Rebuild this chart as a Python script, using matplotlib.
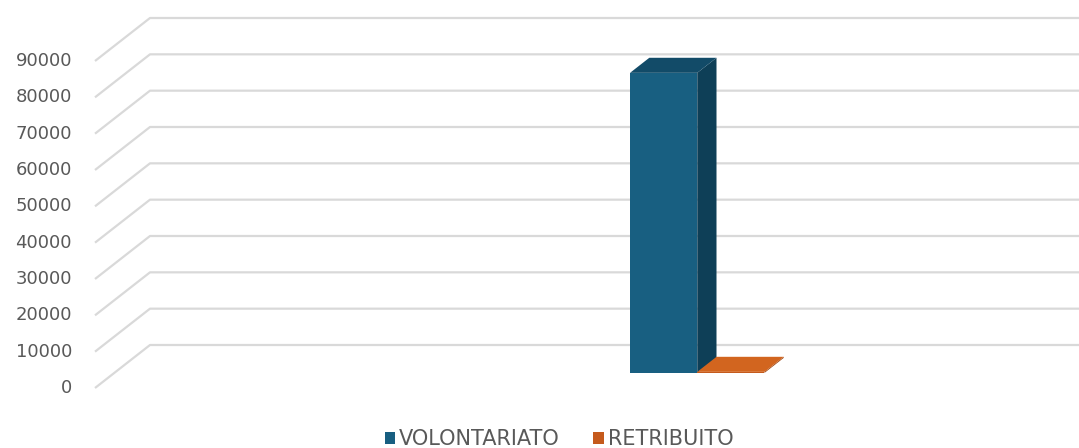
import numpy as np
import matplotlib.pyplot as plt
from matplotlib.patches import Polygon, Patch

# dati
serie = ['VOLONTARIATO', 'RETRIBUITO']
valori = [82600, 300]
colori_fronte = ['#185f81', '#c55a1c']
colori_lato = ['#0e3f57', '#9e4512']
colori_sopra = ['#124b68', '#d2651f']
ticks = np.arange(0, 90001, 10000)

# prospettiva finta (stile grafico 3D di Excel)
px_x = 280.0            # pixel per unita' x
px_y = 327.0 / 90000    # pixel per unita' y
dx = 55 / px_x          # profondita' parete di fondo
dy = 43 / px_y
f0, f1 = 0.35, 0.70     # profondita' delle barre (frazione)
w = 0.24                # larghezza barra
floor_left = (95 - 678) / px_x

fig = plt.figure(figsize=(10.79, 4.48), dpi=100)
ax = fig.add_axes([0, 0, 1, 1])
ax.set_xlim(-678 / px_x, (1079 - 678) / px_x)
ax.set_ylim(-60 / px_y, 388 / px_y)
ax.axis('off')

# griglia: diagonale sul lato sinistro + linea sulla parete di fondo
for t in ticks:
    ax.plot([floor_left, floor_left + dx, 10], [t, t + dy, t + dy],
            color='#d9d9d9', lw=1.6, zorder=1, solid_capstyle='butt')
    ax.text(floor_left - 23 / px_x, t, str(t), ha='right', va='center',
            fontsize=13, color='#595959', family='DejaVu Sans')

# barre 3D
for i, v in enumerate(valori):
    x0 = -w + i * w
    x1 = x0 + w
    ox0, oy0 = f0 * dx, f0 * dy
    ox1, oy1 = f1 * dx, f1 * dy
    fronte = [(x0 + ox0, oy0), (x1 + ox0, oy0), (x1 + ox0, v + oy0), (x0 + ox0, v + oy0)]
    lato = [(x1 + ox0, oy0), (x1 + ox1, oy1), (x1 + ox1, v + oy1), (x1 + ox0, v + oy0)]
    sopra = [(x0 + ox0, v + oy0), (x1 + ox0, v + oy0), (x1 + ox1, v + oy1), (x0 + ox1, v + oy1)]
    ax.add_patch(Polygon(lato, closed=True, fc=colori_lato[i], ec='none', zorder=2 + i))
    ax.add_patch(Polygon(fronte, closed=True, fc=colori_fronte[i], ec='none', zorder=2 + i))
    ax.add_patch(Polygon(sopra, closed=True, fc=colori_sopra[i], ec='none', zorder=2 + i))

# legenda
handles = [Patch(fc=colori_fronte[i], ec='none', label=serie[i]) for i in range(2)]
fig.legend(handles=handles, loc='center', bbox_to_anchor=(559 / 1079, 9 / 448),
           ncol=2, frameon=False, fontsize=15, handlelength=0.5, handleheight=0.5,
           handletextpad=0.2, columnspacing=1.6, labelcolor='#595959',
           borderpad=0.1)

fig.savefig('out.png', dpi=100)
